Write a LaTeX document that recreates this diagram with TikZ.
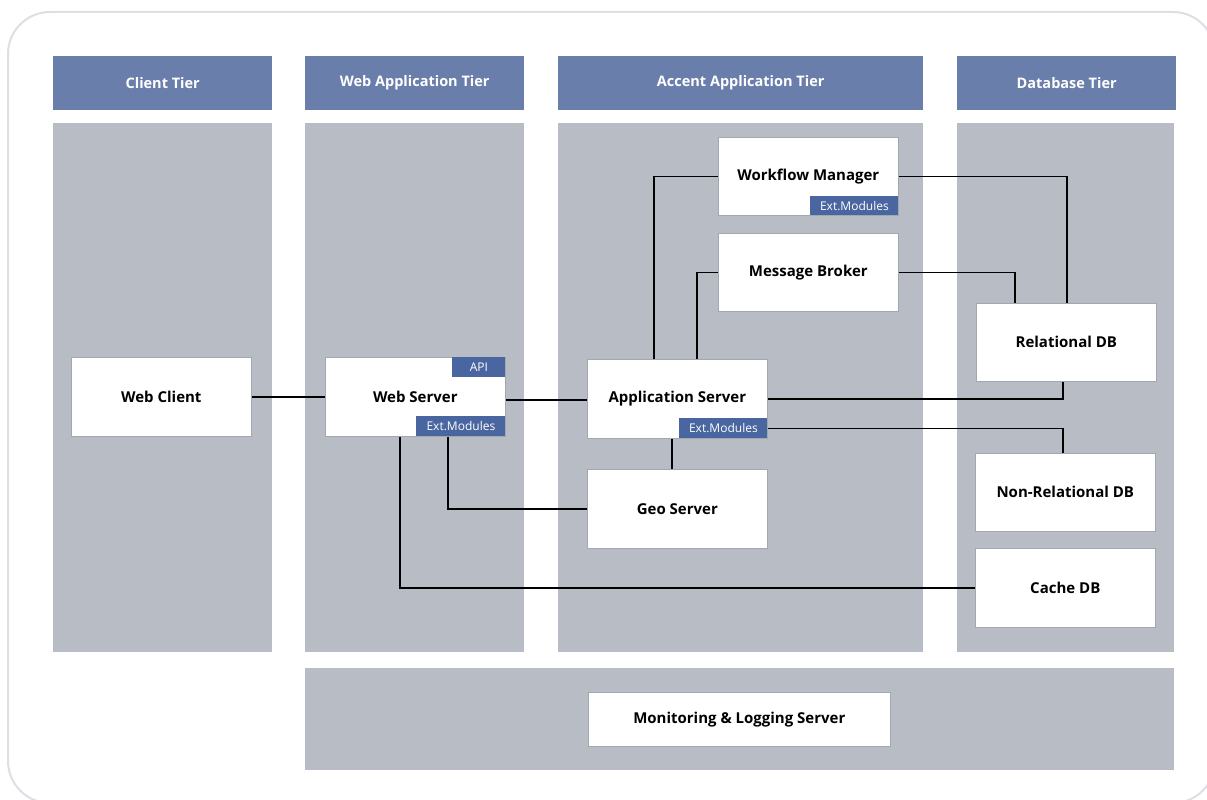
\documentclass[tikz,border=0pt]{standalone}
\usepackage{fontspec}
\setmainfont{Open Sans}
\usetikzlibrary{calc}
\definecolor{tierblue}{HTML}{6A7EAB}
\definecolor{tabblue}{HTML}{4A66A0}
\definecolor{lanegray}{HTML}{B8BDC5}
\definecolor{boxedge}{HTML}{A3A7AE}
\definecolor{frame}{HTML}{DCDFE3}
\tikzset{
  tierhead/.style={fill=tierblue, draw=none, anchor=north west, inner sep=0pt,
    text=white, font=\fontsize{14.5}{17}\selectfont\bfseries},
  lane/.style={fill=lanegray, draw=none},
  compbox/.style={fill=white, draw=boxedge, line width=0.6pt, anchor=north west,
    inner sep=0pt, font=\fontsize{15}{18}\selectfont\bfseries},
  tab/.style={fill=tabblue, draw=none, inner sep=0pt, text=white,
    font=\fontsize{12}{14}\selectfont},
  link/.style={draw=black, line width=1.5pt}
}
\begin{document}
\begin{tikzpicture}[x=1pt, y=-1pt]
\useasboundingbox (0,0) rectangle (1207,800);
% outer frame
\draw[frame, line width=2pt, rounded corners=42pt] (8,12) rectangle (1215,803);

% tier headers
\node[tierhead, minimum width=219pt, minimum height=54pt] (hclient) at (53,56) {Client Tier};
\node[tierhead, minimum width=219pt, minimum height=54pt] (hweb) at (305,56) {Web Application Tier};
\node[tierhead, minimum width=365pt, minimum height=54pt] (happ) at (558,56) {Accent Application Tier};
\node[tierhead, minimum width=219pt, minimum height=54pt] (hdb) at (957,56) {Database Tier};

% tier lanes
\fill[lane] (53,123) rectangle (272,652);
\fill[lane] (305,123) rectangle (524,652);
\fill[lane] (558,123) rectangle (923,652);
\fill[lane] (957,123) rectangle (1174,652);
\fill[lane] (305,668) rectangle (1174,770);

% components
\node[compbox, minimum width=180pt, minimum height=79pt] (wc) at (71,357) {Web Client};
\node[compbox, minimum width=180pt, minimum height=79pt] (ws) at (325,357) {Web Server};
\node[tab, anchor=north east, minimum width=53pt, minimum height=20pt] (wsapi) at (ws.north east) {API};
\node[tab, anchor=south east, minimum width=89pt, minimum height=20pt] (wsext) at (ws.south east) {Ext.Modules};

\node[compbox, minimum width=180pt, minimum height=79pt] (app) at (587,359) {Application Server};
\node[tab, anchor=south east, minimum width=88pt, minimum height=20pt] (appext) at (app.south east) {Ext.Modules};

\node[compbox, minimum width=180pt, minimum height=79pt] (geo) at (587,469) {Geo Server};

\node[compbox, minimum width=180pt, minimum height=78pt] (wf) at (718,137) {Workflow Manager};
\node[tab, anchor=south east, minimum width=88pt, minimum height=19pt] (wfext) at (wf.south east) {Ext.Modules};

\node[compbox, minimum width=180pt, minimum height=78pt] (mb) at (718,233) {Message Broker};

\node[compbox, minimum width=180pt, minimum height=78pt] (rdb) at (976,303) {Relational DB};
\node[compbox, minimum width=180pt, minimum height=78pt] (nrdb) at (975,453) {Non-Relational DB};
\node[compbox, minimum width=180pt, minimum height=79pt] (cdb) at (975,548) {Cache DB};

\node[compbox, minimum width=302pt, minimum height=54pt] (mon) at (588,692) {Monitoring \& Logging Server};

% connectors
\draw[link] (wc.east) -- (ws.west);
\draw[link] ([yshift=-3pt]ws.east) -- ([yshift=-3pt]ws.east -| app.west);
\draw[link] ([xshift=75pt]ws.south west) |- (cdb.west);
\draw[link] ([xshift=32pt]wsext.south west) |- (geo.west);
\draw[link] ([xshift=85pt]app.south west) -- ([xshift=85pt]geo.north west);
\draw[link] ([xshift=67pt]app.north west) |- (wf.west);
\draw[link] ([xshift=110pt]app.north west) |- (mb.west);
\draw[link] (wf.east) -| ([xshift=91pt]rdb.north west);
\draw[link] (mb.east) -| ([xshift=39pt]rdb.north west);
\draw[link] (app.east) -| ([xshift=87pt]rdb.south west);
\draw[link] (appext.east) -| ([xshift=88pt]nrdb.north west);
\end{tikzpicture}
\end{document}
